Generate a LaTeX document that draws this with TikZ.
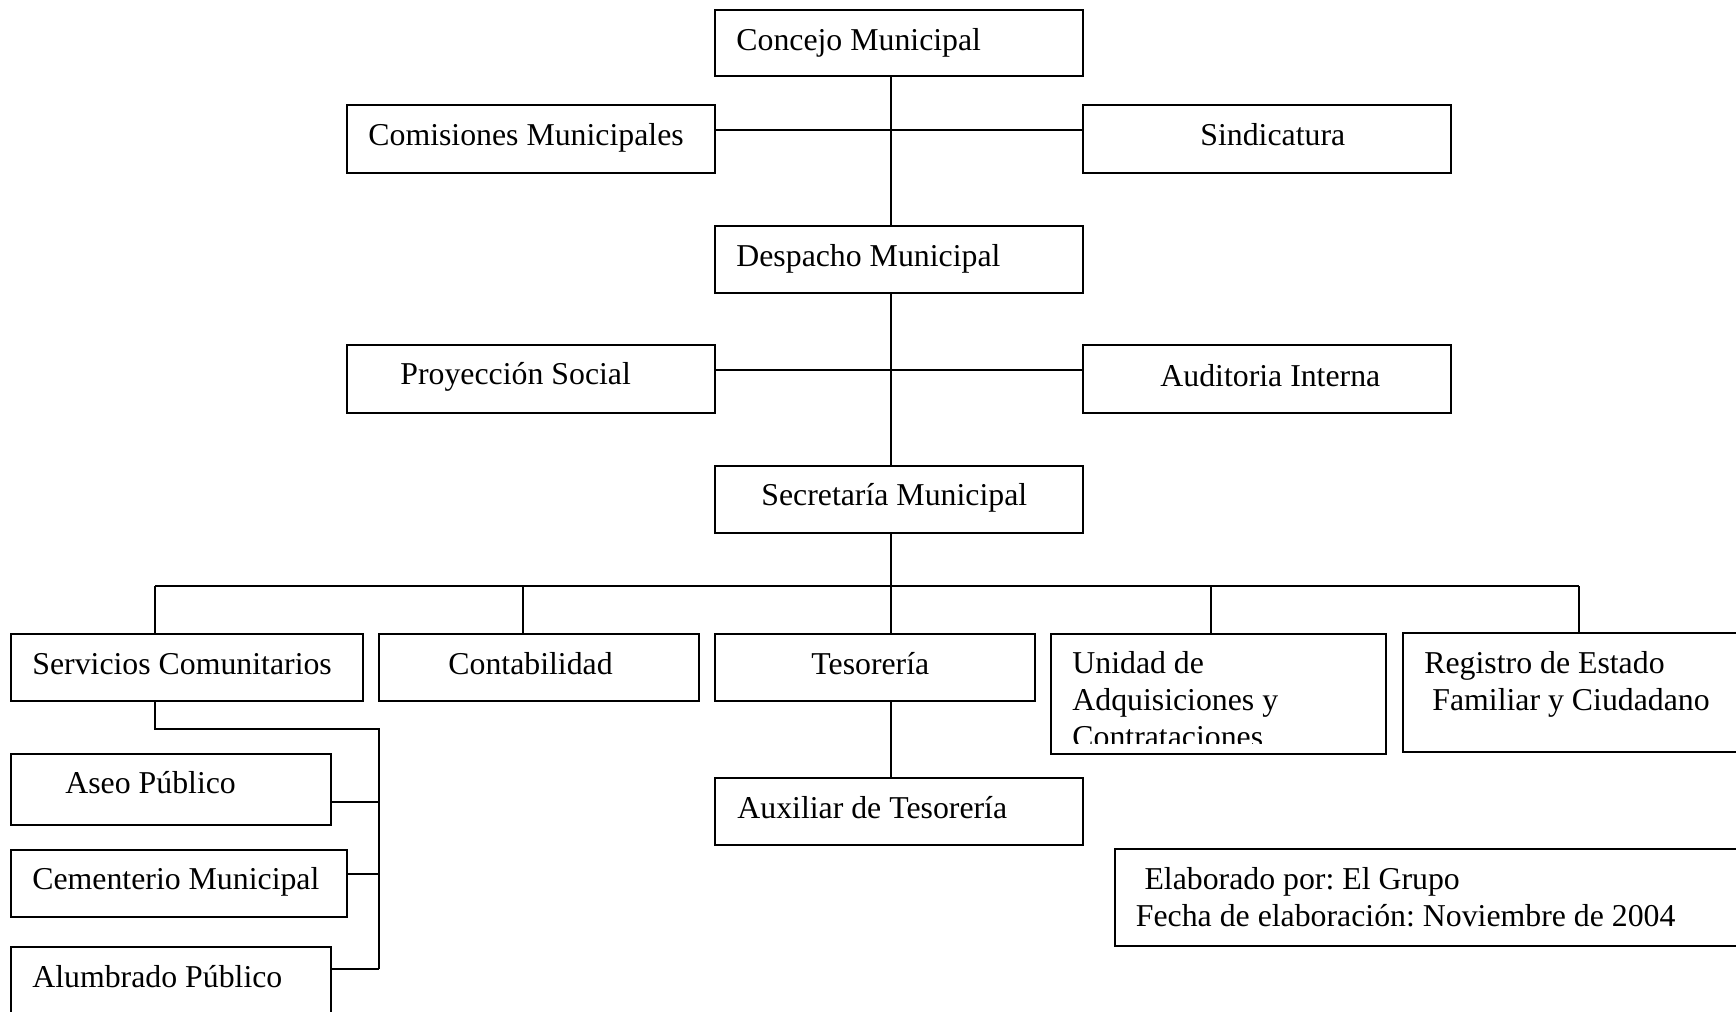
\documentclass[tikz,border=0pt]{standalone}
\usepackage{fontspec}
\setmainfont{Liberation Serif}
\frenchspacing
\begin{document}
\begin{tikzpicture}[x=0.5pt,y=-0.5pt,
  box/.style={draw, line width=1pt, rectangle, inner sep=0pt, outer sep=0pt, anchor=north west},
  txt/.style={inner sep=0pt, anchor=base west, font=\fontsize{15.9}{18.5}\selectfont, align=left},
  link/.style={line width=0.8pt}]
\useasboundingbox[fill=white] (0,0) rectangle (1736,1012);

% boxes
\node[box, minimum width=184pt, minimum height=33pt]   (concejo)     at (715,10) {};
\node[box, minimum width=184pt, minimum height=34pt]   (comisiones)  at (347,105) {};
\node[box, minimum width=184pt, minimum height=34pt]   (sindicatura) at (1083,105) {};
\node[box, minimum width=184pt, minimum height=33.5pt] (despacho)    at (715,226) {};
\node[box, minimum width=184pt, minimum height=34pt]   (proyeccion)  at (347,345) {};
\node[box, minimum width=184pt, minimum height=34pt]   (auditoria)   at (1083,345) {};
\node[box, minimum width=184pt, minimum height=33.5pt] (secretaria)  at (715,466) {};
\node[box, minimum width=176pt, minimum height=33.5pt] (servicios)   at (11,634) {};
\node[box, minimum width=160pt, minimum height=33.5pt] (contabilidad) at (379,634) {};
\node[box, minimum width=160pt, minimum height=33.5pt] (tesoreria)   at (715,634) {};
\node[box, minimum width=167.5pt, minimum height=60pt] (unidad)      at (1051,634) {};
\node[box, minimum width=172.5pt, minimum height=59.5pt] (registro)  at (1403,633) {};
\node[box, minimum width=184pt, minimum height=33.5pt] (auxiliar)    at (715,778) {};
\node[box, minimum width=160pt, minimum height=35.5pt] (aseo)        at (11,754) {};
\node[box, minimum width=168pt, minimum height=33.5pt] (cementerio)  at (11,850) {};
\node[box, minimum width=160pt, minimum height=40pt]   (alumbrado)   at (11,947) {};
\node[box, minimum width=317.5pt, minimum height=48.5pt] (elaborado) at (1115,849) {};

% texts
\node[txt] (t-concejo)     at (736,50)   {Concejo Municipal};
\node[txt] (t-comisiones)  at (368,145)  {Comisiones Municipales};
\node[txt] (t-sindicatura) at (1200,145) {Sindicatura};
\node[txt] (t-despacho)    at (736,266)  {Despacho Municipal};
\node[txt] (t-proyeccion)  at (400,384)  {Proyección Social};
\node[txt] (t-auditoria)   at (1160,386) {Auditoria Interna};
\node[txt] (t-secretaria)  at (761,505)  {Secretaría Municipal};
\node[txt] (t-servicios)   at (32,674)   {Servicios Comunitarios};
\node[txt] (t-contabilidad) at (448,674) {Contabilidad};
\node[txt] (t-tesoreria)   at (811,674)  {Tesorería};
\begin{scope}
  \clip (1051,634) rectangle (1386,743);
  \node[txt] (t-unidad) at (1072,747) {Unidad de\\Adquisiciones y\\Contrataciones};
\end{scope}
\node[txt] (t-registro)    at (1424,710) {Registro de Estado\\\hspace{4pt}Familiar y Ciudadano};
\node[txt] (t-auxiliar)    at (737,818)  {Auxiliar de Tesorería};
\node[txt] (t-aseo)        at (65,793)   {Aseo Público};
\node[txt] (t-cementerio)  at (32,889)   {Cementerio Municipal};
\node[txt] (t-alumbrado)   at (32,987)   {Alumbrado Público};
\node[txt] (t-elaborado)   at (1135.5,926) {\hspace{4.3pt}Elaborado por: El Grupo\\Fecha de elaboración: Noviembre de 2004};

% reference coordinates
\coordinate (spine) at (891,0);
\coordinate (h1) at (0,130);
\coordinate (h2) at (0,370);
\coordinate (d1) at (155,586);
\coordinate (d2) at (523,586);
\coordinate (d4) at (1211,586);
\coordinate (d5) at (1579,586);
\coordinate (s1) at (155,729);
\coordinate (s2) at (379,729);
\coordinate (sa) at (379,802);
\coordinate (sc) at (379,874);
\coordinate (sl) at (379,969);

% connectors
\draw[link] (concejo.south -| spine) -- (despacho.north -| spine);
\draw[link] (comisiones.east |- h1) -- (sindicatura.west |- h1);
\draw[link] (despacho.south -| spine) -- (secretaria.north -| spine);
\draw[link] (proyeccion.east |- h2) -- (auditoria.west |- h2);
\draw[link] (secretaria.south -| spine) -- (tesoreria.north -| spine);
\draw[link] (d1) -- (d5);
\draw[link] (d1) -- (servicios.north -| d1);
\draw[link] (d2) -- (contabilidad.north -| d2);
\draw[link] (d4) -- (unidad.north -| d4);
\draw[link] (d5) -- (registro.north -| d5);
\draw[link] (tesoreria.south -| spine) -- (auxiliar.north -| spine);
\draw[link] (servicios.south -| s1) -- (s1) -- (s2) -- (sl);
\draw[link] (aseo.east |- sa) -- (sa);
\draw[link] (cementerio.east |- sc) -- (sc);
\draw[link] (alumbrado.east |- sl) -- (sl);
\end{tikzpicture}
\end{document}
